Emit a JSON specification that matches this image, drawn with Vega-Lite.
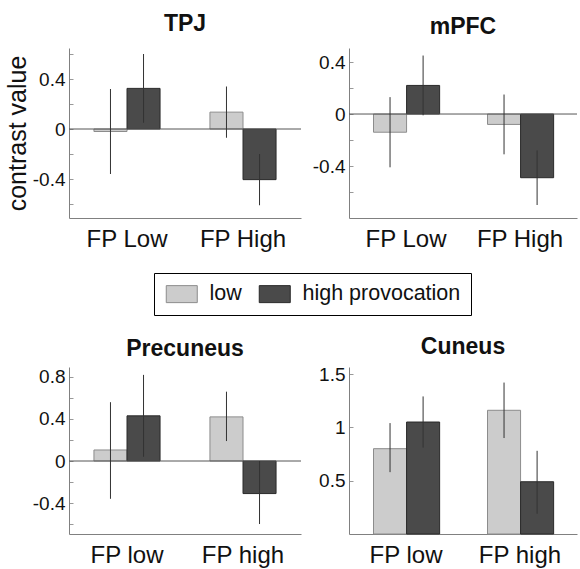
{
  "$schema": "https://vega.github.io/schema/vega-lite/v6.json",
  "padding": {"left": 5, "top": 13, "right": 2, "bottom": 2},
  "background": "white",
  "config": {
    "locale": {"number": {"decimal": ".", "thousands": ",", "grouping": [3], "currency": ["$", ""], "minus": "-"}},
    "view": {"stroke": null},
    "font": "Liberation Sans",
    "title": {"font": "Liberation Sans", "fontSize": 23, "fontWeight": "bold", "color": "#111", "anchor": "middle"},
    "axis": {"grid": false, "domainColor": "#808080", "domainWidth": 1, "tickColor": "#999", "labelColor": "#111", "labelFont": "Liberation Sans", "titleFont": "Liberation Sans", "titleFontWeight": "normal", "titleColor": "#111"},
    "axisX": {"ticks": false, "labelFontSize": 24, "labelPadding": 9, "labelAngle": 0, "title": null},
    "axisY": {"labelFontSize": 19, "tickSize": -4, "labelPadding": 8, "format": "~g", "labelOverlap": false}
  },
  "datasets": {
    "d": [
      {"region": "TPJ", "cond": "FP Low", "prov": "low", "val": -0.02, "lo": -0.36, "hi": 0.32},
      {"region": "TPJ", "cond": "FP Low", "prov": "high provocation", "val": 0.325, "lo": 0.05, "hi": 0.60},
      {"region": "TPJ", "cond": "FP High", "prov": "low", "val": 0.135, "lo": -0.07, "hi": 0.34},
      {"region": "TPJ", "cond": "FP High", "prov": "high provocation", "val": -0.405, "lo": -0.61, "hi": -0.20},
      {"region": "mPFC", "cond": "FP Low", "prov": "low", "val": -0.14, "lo": -0.41, "hi": 0.13},
      {"region": "mPFC", "cond": "FP Low", "prov": "high provocation", "val": 0.22, "lo": -0.01, "hi": 0.45},
      {"region": "mPFC", "cond": "FP High", "prov": "low", "val": -0.08, "lo": -0.31, "hi": 0.15},
      {"region": "mPFC", "cond": "FP High", "prov": "high provocation", "val": -0.49, "lo": -0.70, "hi": -0.28},
      {"region": "Precuneus", "cond": "FP low", "prov": "low", "val": 0.105, "lo": -0.36, "hi": 0.56},
      {"region": "Precuneus", "cond": "FP low", "prov": "high provocation", "val": 0.43, "lo": 0.04, "hi": 0.82},
      {"region": "Precuneus", "cond": "FP high", "prov": "low", "val": 0.42, "lo": 0.19, "hi": 0.66},
      {"region": "Precuneus", "cond": "FP high", "prov": "high provocation", "val": -0.31, "lo": -0.60, "hi": 0.0},
      {"region": "Cuneus", "cond": "FP low", "prov": "low", "val": 0.80, "lo": 0.58, "hi": 1.04},
      {"region": "Cuneus", "cond": "FP low", "prov": "high provocation", "val": 1.05, "lo": 0.81, "hi": 1.29},
      {"region": "Cuneus", "cond": "FP high", "prov": "low", "val": 1.16, "lo": 0.90, "hi": 1.42},
      {"region": "Cuneus", "cond": "FP high", "prov": "high provocation", "val": 0.49, "lo": 0.19, "hi": 0.78}
    ],
    "zero": [{"z": 0}]
  },
  "columns": 2,
  "spacing": {"row": 85, "column": 10},
  "concat": [
    {
      "title": {"text": "TPJ", "offset": 9},
      "width": 232, "height": 170,
      "layer": [
        {
          "data": {"name": "d"},
          "transform": [{"filter": "datum.region == 'TPJ'"}],
          "mark": {"type": "bar", "strokeWidth": 1},
          "encoding": {
            "x": {"field": "cond", "type": "nominal", "sort": ["FP Low", "FP High"], "scale": {"paddingInner": 0.43, "paddingOuter": 0.215}},
            "xOffset": {"field": "prov", "type": "nominal", "sort": ["low", "high provocation"], "scale": {"paddingInner": 0, "paddingOuter": 0}},
            "y": {"field": "val", "type": "quantitative", "scale": {"domain": [-0.712, 0.648], "nice": false, "zero": false},
                  "axis": {"values": [-0.6, -0.4, -0.2, 0, 0.2, 0.4, 0.6], "labelExpr": "round(datum.value*10) % 4 == 0 ? datum.label : ''", "title": "contrast value", "titleFontSize": 25, "titlePadding": 2}},
            "color": {"field": "prov", "type": "nominal", "scale": {"domain": ["low", "high provocation"], "range": ["#cccccc", "#4a4a4a"]},
                      "legend": {"orient": "none", "legendX": 85, "legendY": 225, "direction": "horizontal", "title": null,
                                 "labelFontSize": 21.5, "labelFont": "Liberation Sans", "labelColor": "#111",
                                 "symbolType": "M-1,-1H2.65V1H-1Z", "symbolSize": 289, "labelOffset": 24, "columnPadding": 15,
                                 "padding": 10, "strokeColor": "#000",
                                 "symbolStrokeColor": "#666", "symbolStrokeWidth": 1, "symbolOpacity": 1}},
            "stroke": {"field": "prov", "type": "nominal", "scale": {"domain": ["low", "high provocation"], "range": ["#8c8c8c", "#2a2a2a"]}, "legend": null}
          }
        },
        {
          "data": {"name": "zero"},
          "mark": {"type": "rule", "color": "#555", "strokeWidth": 1},
          "encoding": {"y": {"field": "z", "type": "quantitative",
                  "axis": {"values": [-0.6, -0.4, -0.2, 0, 0.2, 0.4, 0.6], "labelExpr": "round(datum.value*10) % 4 == 0 ? datum.label : ''", "title": "contrast value", "titleFontSize": 25, "titlePadding": 2}}}
        },
        {
          "data": {"name": "d"},
          "transform": [{"filter": "datum.region == 'TPJ'"}],
          "mark": {"type": "rule", "color": "#333", "strokeWidth": 1},
          "encoding": {
            "x": {"field": "cond", "type": "nominal", "sort": ["FP Low", "FP High"]},
            "xOffset": {"field": "prov", "type": "nominal", "sort": ["low", "high provocation"]},
            "y": {"field": "lo", "type": "quantitative",
                  "axis": {"values": [-0.6, -0.4, -0.2, 0, 0.2, 0.4, 0.6], "labelExpr": "round(datum.value*10) % 4 == 0 ? datum.label : ''", "title": "contrast value", "titleFontSize": 25, "titlePadding": 2}},
            "y2": {"field": "hi"}
          }
        }
      ]
    },
    {
      "title": {"text": "mPFC", "offset": 9},
      "width": 228, "height": 170,
      "layer": [
        {
          "data": {"name": "d"},
          "transform": [{"filter": "datum.region == 'mPFC'"}],
          "mark": {"type": "bar", "strokeWidth": 1},
          "encoding": {
            "x": {"field": "cond", "type": "nominal", "sort": ["FP Low", "FP High"], "scale": {"paddingInner": 0.43, "paddingOuter": 0.215}},
            "xOffset": {"field": "prov", "type": "nominal", "sort": ["low", "high provocation"], "scale": {"paddingInner": 0, "paddingOuter": 0}},
            "y": {"field": "val", "type": "quantitative", "scale": {"domain": [-0.8, 0.508], "nice": false, "zero": false},
                  "axis": {"values": [-0.6, -0.4, -0.2, 0, 0.2, 0.4], "labelExpr": "round(datum.value*10) % 4 == 0 ? datum.label : ''", "title": null}},
            "color": {"field": "prov", "type": "nominal", "scale": {"domain": ["low", "high provocation"], "range": ["#cccccc", "#4a4a4a"]}},
            "stroke": {"field": "prov", "type": "nominal", "scale": {"domain": ["low", "high provocation"], "range": ["#8c8c8c", "#2a2a2a"]}, "legend": null}
          }
        },
        {
          "data": {"name": "zero"},
          "mark": {"type": "rule", "color": "#555", "strokeWidth": 1},
          "encoding": {"y": {"field": "z", "type": "quantitative",
                  "axis": {"values": [-0.6, -0.4, -0.2, 0, 0.2, 0.4], "labelExpr": "round(datum.value*10) % 4 == 0 ? datum.label : ''", "title": null}}}
        },
        {
          "data": {"name": "d"},
          "transform": [{"filter": "datum.region == 'mPFC'"}],
          "mark": {"type": "rule", "color": "#333", "strokeWidth": 1},
          "encoding": {
            "x": {"field": "cond", "type": "nominal", "sort": ["FP Low", "FP High"]},
            "xOffset": {"field": "prov", "type": "nominal", "sort": ["low", "high provocation"]},
            "y": {"field": "lo", "type": "quantitative",
                  "axis": {"values": [-0.6, -0.4, -0.2, 0, 0.2, 0.4], "labelExpr": "round(datum.value*10) % 4 == 0 ? datum.label : ''", "title": null}},
            "y2": {"field": "hi"}
          }
        }
      ]
    },
    {
      "title": {"text": "Precuneus", "offset": 6},
      "width": 232, "height": 167,
      "layer": [
        {
          "data": {"name": "d"},
          "transform": [{"filter": "datum.region == 'Precuneus'"}],
          "mark": {"type": "bar", "strokeWidth": 1},
          "encoding": {
            "x": {"field": "cond", "type": "nominal", "sort": ["FP low", "FP high"], "scale": {"paddingInner": 0.43, "paddingOuter": 0.215}},
            "xOffset": {"field": "prov", "type": "nominal", "sort": ["low", "high provocation"], "scale": {"paddingInner": 0, "paddingOuter": 0}},
            "y": {"field": "val", "type": "quantitative", "scale": {"domain": [-0.695, 0.895], "nice": false, "zero": false},
                  "axis": {"values": [-0.6, -0.4, -0.2, 0, 0.2, 0.4, 0.6, 0.8], "labelExpr": "round(datum.value*10) % 4 == 0 ? datum.label : ''", "title": null}},
            "color": {"field": "prov", "type": "nominal", "scale": {"domain": ["low", "high provocation"], "range": ["#cccccc", "#4a4a4a"]}},
            "stroke": {"field": "prov", "type": "nominal", "scale": {"domain": ["low", "high provocation"], "range": ["#8c8c8c", "#2a2a2a"]}, "legend": null}
          }
        },
        {
          "data": {"name": "zero"},
          "mark": {"type": "rule", "color": "#555", "strokeWidth": 1},
          "encoding": {"y": {"field": "z", "type": "quantitative",
                  "axis": {"values": [-0.6, -0.4, -0.2, 0, 0.2, 0.4, 0.6, 0.8], "labelExpr": "round(datum.value*10) % 4 == 0 ? datum.label : ''", "title": null}}}
        },
        {
          "data": {"name": "d"},
          "transform": [{"filter": "datum.region == 'Precuneus'"}],
          "mark": {"type": "rule", "color": "#333", "strokeWidth": 1},
          "encoding": {
            "x": {"field": "cond", "type": "nominal", "sort": ["FP low", "FP high"]},
            "xOffset": {"field": "prov", "type": "nominal", "sort": ["low", "high provocation"]},
            "y": {"field": "lo", "type": "quantitative",
                  "axis": {"values": [-0.6, -0.4, -0.2, 0, 0.2, 0.4, 0.6, 0.8], "labelExpr": "round(datum.value*10) % 4 == 0 ? datum.label : ''", "title": null}},
            "y2": {"field": "hi"}
          }
        }
      ]
    },
    {
      "title": {"text": "Cuneus", "offset": 6},
      "width": 228, "height": 167,
      "layer": [
        {
          "data": {"name": "d"},
          "transform": [{"filter": "datum.region == 'Cuneus'"}],
          "mark": {"type": "bar", "strokeWidth": 1},
          "encoding": {
            "x": {"field": "cond", "type": "nominal", "sort": ["FP low", "FP high"], "scale": {"paddingInner": 0.43, "paddingOuter": 0.215}},
            "xOffset": {"field": "prov", "type": "nominal", "sort": ["low", "high provocation"], "scale": {"paddingInner": 0, "paddingOuter": 0}},
            "y": {"field": "val", "type": "quantitative", "scale": {"domain": [0, 1.566], "nice": false, "zero": false},
                  "axis": {"values": [0.5, 1, 1.5], "title": null}},
            "color": {"field": "prov", "type": "nominal", "scale": {"domain": ["low", "high provocation"], "range": ["#cccccc", "#4a4a4a"]}},
            "stroke": {"field": "prov", "type": "nominal", "scale": {"domain": ["low", "high provocation"], "range": ["#8c8c8c", "#2a2a2a"]}, "legend": null}
          }
        },
        {
          "data": {"name": "d"},
          "transform": [{"filter": "datum.region == 'Cuneus'"}],
          "mark": {"type": "rule", "color": "#333", "strokeWidth": 1},
          "encoding": {
            "x": {"field": "cond", "type": "nominal", "sort": ["FP low", "FP high"]},
            "xOffset": {"field": "prov", "type": "nominal", "sort": ["low", "high provocation"]},
            "y": {"field": "lo", "type": "quantitative", "axis": {"values": [0.5, 1, 1.5], "title": null}},
            "y2": {"field": "hi"}
          }
        }
      ]
    }
  ]
}
